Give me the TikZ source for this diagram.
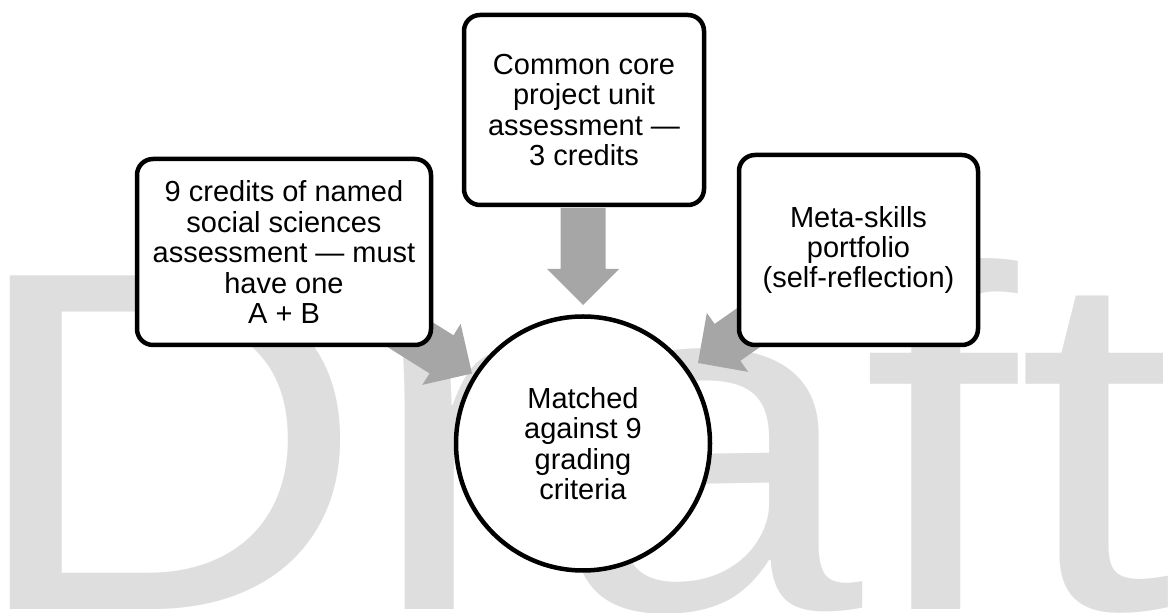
\documentclass[tikz,border=0pt]{standalone}
\usepackage{graphicx}
\usepackage{fontspec}
\setmainfont{Liberation Sans}
\newfontfamily\wmfont[Kerning=Off]{Liberation Sans}
\definecolor{wmgray}{RGB}{222,222,222}
\definecolor{arrgray}{RGB}{166,166,166}
\newcommand\myblockarrow[2]{%
  \begin{scope}[shift={#1}, rotate=#2]
    \fill[arrgray] (0,0) -- (-36,36) -- (-36,22.5) -- (-97,22.5) -- (-97,-22.5) -- (-36,-22.5) -- (-36,-36) -- cycle;
  \end{scope}}
\begin{document}
\begin{tikzpicture}[x=1pt,y=1pt,
  srcbox/.style={draw=black, line width=4.5pt, rounded corners=16pt, fill=white,
    align=center, font=\fontsize{29}{30.5}\selectfont, inner sep=0pt},
  hub/.style={circle, draw=black, line width=4.5pt, fill=white, align=center,
    font=\fontsize{29}{30.5}\selectfont, inner sep=0pt, minimum size=254pt}]
\useasboundingbox (0,0) rectangle (1171,613);
% watermark
\node[anchor=base west, inner sep=0pt, text=wmgray] (wmk) at (-36,3)
  {\scalebox{1.15}[1]{\wmfont\fontsize{485}{485}\selectfont Draft}};
% arrow tips
\coordinate (tipT) at (583,308);
\coordinate (tipL) at (472,239.5);
\coordinate (tipR) at (698,250);
\myblockarrow{(tipT)}{-90}
\myblockarrow{(tipL)}{-32.1}
\myblockarrow{(tipR)}{215}
% boxes
\node[srcbox, minimum width=240pt, minimum height=190pt] (top) at (584,503)
  {Common core\\project unit\\assessment —\\3 credits};
\node[srcbox, minimum width=294pt, minimum height=186pt] (left) at (284,361)
  {9 credits of named\\social sciences\\assessment — must\\have one\\A + B};
\node[srcbox, minimum width=239pt, minimum height=190pt] (right) at (858.5,363)
  {Meta-skills\\portfolio\\(self-reflection)};
\node[hub] (hubc) at (583,169.5)
  {Matched\\against 9\\grading\\criteria};
\end{tikzpicture}
\end{document}
